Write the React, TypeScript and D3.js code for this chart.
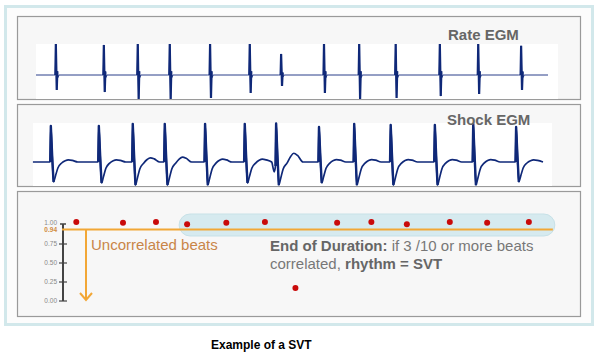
import React from "react";
import * as d3 from "d3";

// ---- data ----
const beatTimes = [0.31, 1.06, 1.59, 2.09, 2.72, 3.34, 3.83, 4.5, 5.05, 5.62, 6.31, 6.91, 7.58];
const rateUp = [1.0, 0.97, 1.0, 1.0, 1.0, 1.0, 0.68, 1.0, 1.0, 1.0, 1.0, 1.0, 0.94];
const rateDown = [-0.48, -0.55, -0.77, -0.77, -0.74, -0.58, -0.35, -0.58, -0.77, -0.74, -0.68, -0.61, -0.48];
const shockUp = [1.03, 1.03, 1.09, 1.09, 1.09, 1.09, 1.1, 1.0, 1.09, 1.06, 1.06, 1.09, 1.0];
const shockDown = [-0.57, -0.6, -0.66, -0.66, -0.66, -0.6, -0.66, -0.6, -0.66, -0.66, -0.66, -0.66, -0.57];
const shockT = [0.06, 0.06, 0.12, 0.14, 0.08, 0.08, 0.25, 0.07, 0.07, 0.07, 0.07, 0.07, 0.06];
const shockPre = [0, 0, 0, 0, 0, 0, -0.28, 0, 0, 0, 0, 0, 0];
const correlation = [1.04, 1.03, 1.04, 1.01, 1.03, 1.04, 0.17, 1.03, 1.04, 1.01, 1.04, 1.03, 1.04];
const threshold = 0.94;
const yTicks = [0, 0.25, 0.5, 0.75, 1.0];
const yTickLabels = ["0.00", "0.25", "0.50", "0.75", "1.00"];

type TP = { ms: number; v: number; k: string };
const rateTemplate: TP[] = [
  { ms: -40, v: 0, k: "u" },
  { ms: -8, v: 0, k: "u" },
  { ms: 0, v: 1, k: "u" },
  { ms: 14, v: 1, k: "d" },
  { ms: 24, v: 0.12, k: "u" },
  { ms: 34, v: -0.08, k: "u" },
  { ms: 48, v: 0, k: "u" },
];
const shockTemplate: TP[] = [
  { ms: -70, v: 0, k: "p" },
  { ms: -30, v: 1, k: "p" },
  { ms: -10, v: 0.4, k: "p" },
  { ms: 0, v: 1, k: "u" },
  { ms: 20, v: 0.2, k: "u" },
  { ms: 42, v: 1, k: "d" },
  { ms: 72, v: 0.7, k: "d" },
  { ms: 110, v: 0.3, k: "d" },
  { ms: 170, v: 0.05, k: "d" },
  { ms: 225, v: 0.6, k: "t" },
  { ms: 275, v: 1, k: "t" },
  { ms: 335, v: 0.75, k: "t" },
  { ms: 420, v: 0.0, k: "t" },
];

function build(times: number[], amps: Record<string, number[]>, tpl: TP[], t0: number, t1: number, lo = -1e9, hi = 1e9) {
  const pts: [number, number][] = [];
  times.forEach((t, i) => {
    tpl.forEach((p) => {
      if (p.ms >= lo && p.ms <= hi) pts.push([t + p.ms / 1000, p.v * amps[p.k][i]]);
    });
  });
  if (lo < -1e8) {
    pts.unshift([t0, 0]);
    pts.push([t1, 0]);
  }
  return pts.sort((a, b) => a[0] - b[0]);
}

const navy = "#0f2878";
const font = "'Liberation Sans', Arial, sans-serif";

export default function App() {
  const xRate = d3.scaleLinear().domain([0, 8]).range([36, 548]);
  const yRate = d3.scaleLinear().domain([-1, 1]).range([106, 44]);
  const xShock = d3.scaleLinear().domain([0, 8]).range([31, 543]);
  const yShock = d3.scaleLinear().domain([-1, 1]).range([197, 127]);
  const xDot = d3.scaleLinear().domain([0, 8]).range([57, 555]);
  const yCorr = d3.scaleLinear().domain([0, 1]).range([301, 225]);

  const rateAmps = { u: rateUp, d: rateDown };
  const shockAmps = { u: shockUp, d: shockDown, t: shockT, p: shockPre };

  const rateLine = d3.line<[number, number]>().x((d) => xRate(d[0])).y((d) => yRate(d[1]));
  const shockLine = d3
    .line<[number, number]>()
    .x((d) => xShock(d[0]))
    .y((d) => yShock(d[1]))
    .curve(d3.curveMonotoneX);
  const shockSpike = d3.line<[number, number]>().x((d) => xShock(d[0])).y((d) => yShock(d[1]));

  const ratePath = rateLine(build(beatTimes, rateAmps, rateTemplate, 0, 8)) || "";
  const shockPath = shockLine(build(beatTimes, shockAmps, shockTemplate, 0.03, 8)) || "";

  const capL = xDot(beatTimes[3]) - 8;
  const capR = xDot(beatTimes[12]) + 26;
  const yThr = yCorr(threshold);
  const axisX = 63;
  const arrowX = 86;
  const orange = "#f2a736";

  return (
    <svg width={603} height={362} style={{ position: "absolute", left: 0, top: 0, background: "#fff" }}>
      <rect x={5.5} y={6.5} width={587} height={318} fill="#fcfcfc" stroke="#d2e8eb" strokeWidth={3} />
      {/* panels */}
      <rect x={17.5} y={16.5} width={563} height={83} fill="#f7f7f7" stroke="#9a9a9a" strokeWidth={1.2} />
      <rect x={17.5} y={104.5} width={563} height={82} fill="#f7f7f7" stroke="#9a9a9a" strokeWidth={1.2} />
      <rect x={17.5} y={191.5} width={563} height={125} fill="#f7f7f7" stroke="#9a9a9a" strokeWidth={1.2} />
      <rect x={36} y={44} width={522} height={55} fill="#ffffff" />
      <rect x={33} y={123} width={519} height={63} fill="#ffffff" />

      {/* Rate EGM */}
      <path d={ratePath} fill="none" stroke="#2a3f8a" strokeWidth={1} />
      {beatTimes.map((t, i) => (
        <path
          key={"rs" + i}
          d={rateLine(build([t], { u: [rateUp[i]], d: [rateDown[i]] }, rateTemplate, 0, 8, -8, 24)) || ""}
          fill="none"
          stroke={navy}
          strokeWidth={2.2}
        />
      ))}
      <text x={448} y={40} fontFamily={font} fontWeight="bold" fontSize={15} fill="#666">
        Rate EGM
      </text>

      {/* Shock EGM */}
      <path d={shockPath} fill="none" stroke={navy} strokeWidth={1.7} strokeLinejoin="round" />
      {beatTimes.map((t, i) => (
        <path
          key={"ss" + i}
          d={
            shockSpike(
              build(
                [t],
                { u: [shockUp[i]], d: [shockDown[i]], t: [shockT[i]], p: [shockPre[i]] },
                shockTemplate,
                0,
                8,
                -10,
                42
              )
            ) || ""
          }
          fill="none"
          stroke={navy}
          strokeWidth={2.4}
          strokeLinejoin="round"
        />
      ))}
      <text x={447} y={125} fontFamily={font} fontWeight="bold" fontSize={15} fill="#666">
        Shock EGM
      </text>

      {/* Correlation panel */}
      <rect x={capL} y={214} width={capR - capL} height={22} rx={11} fill="#d6eaef" stroke="#c7e1e7" />
      <line x1={axisX} x2={axisX} y1={yCorr(1) - 1} y2={yCorr(0)} stroke="#444" strokeWidth={2} />
      <line x1={60} x2={66} y1={yCorr(1) - 1} y2={yCorr(1) - 1} stroke="#444" strokeWidth={1.5} />
      {yTicks.map((v, i) => (
        <g key={"t" + i}>
          {i < yTicks.length - 1 && (
            <line x1={59} x2={67} y1={yCorr(v)} y2={yCorr(v)} stroke="#444" strokeWidth={1.2} />
          )}
          <text
            x={57}
            y={i === yTicks.length - 1 ? yCorr(v) - 2 : yCorr(v)}
            dy="0.35em"
            textAnchor="end"
            fontFamily={font}
            fontSize={6.5}
            fill="#888"
          >
            {yTickLabels[i]}
          </text>
        </g>
      ))}
      <text x={57} y={yThr} dy="0.35em" textAnchor="end" fontFamily={font} fontSize={6.5} fontWeight="bold" fill="#d08a3e">
        {threshold.toFixed(2)}
      </text>
      <line x1={axisX - 1} x2={capR - 2} y1={yThr} y2={yThr} stroke={orange} strokeWidth={2} />
      <line x1={arrowX} x2={arrowX} y1={yThr} y2={yCorr(0) - 1} stroke={orange} strokeWidth={2} />
      <polyline
        points={`${arrowX - 6},${yCorr(0) - 8} ${arrowX},${yCorr(0) - 1} ${arrowX + 6},${yCorr(0) - 8}`}
        fill="none"
        stroke={orange}
        strokeWidth={2}
      />
      {correlation.map((c, i) => (
        <circle key={"c" + i} cx={xDot(beatTimes[i])} cy={yCorr(c)} r={3} fill="#c90a0a" />
      ))}
      <text x={91} y={250} fontFamily={font} fontSize={15} fill="#c98548">
        Uncorrelated beats
      </text>
      <text x={270} y={251} fontFamily={font} fontSize={15} fill="#777">
        <tspan fontWeight="bold" fill="#666">End of Duration:</tspan> if 3 /10 or more beats
      </text>
      <text x={270} y={269} fontFamily={font} fontSize={15} fill="#777">
        correlated, <tspan fontWeight="bold" fill="#666">rhythm = SVT</tspan>
      </text>

      <text x={211} y={349} fontFamily={font} fontWeight="bold" fontSize={12} fill="#000">
        Example of a SVT
      </text>
    </svg>
  );
}
